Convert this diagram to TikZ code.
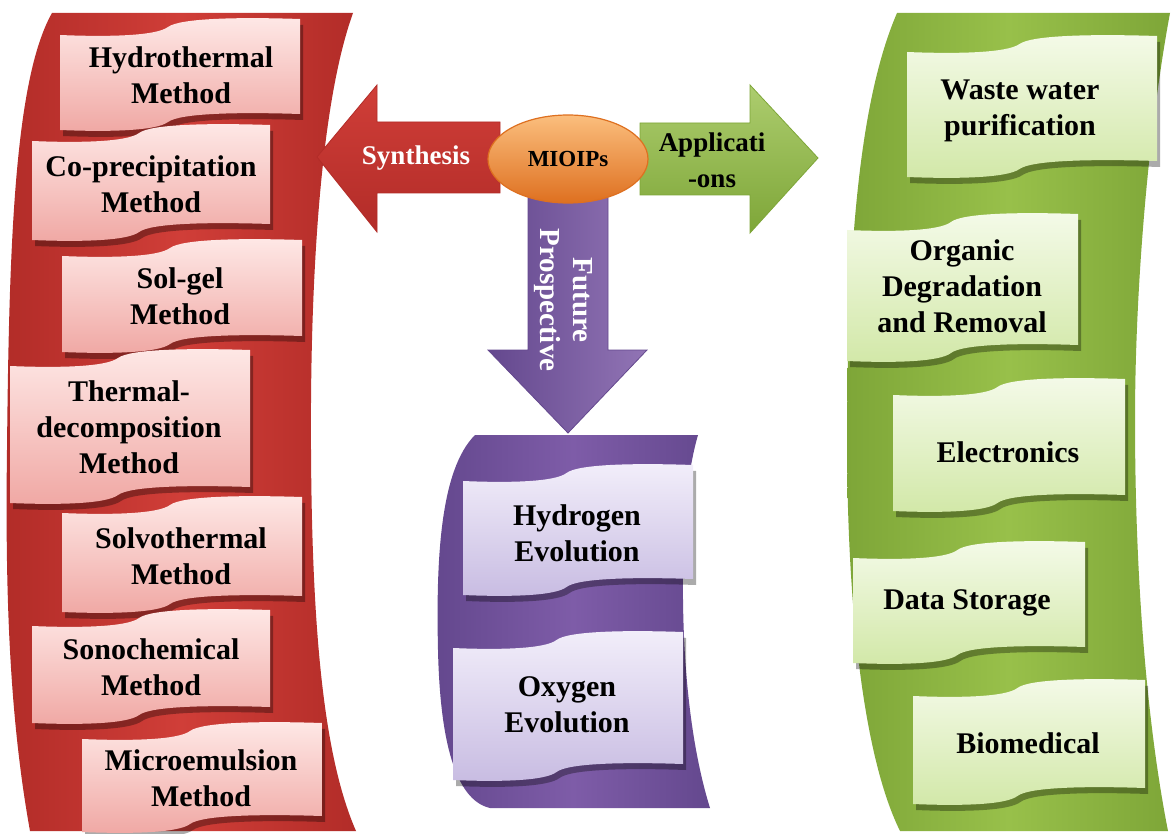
\documentclass[tikz,border=0pt]{standalone}
\usepackage{fontspec}
\setmainfont{Liberation Serif}
\usetikzlibrary{shapes.geometric}
\definecolor{redM}{RGB}{208,62,56}
\definecolor{redD}{RGB}{178,44,40}
\definecolor{redL1}{RGB}{254,232,230}
\definecolor{redL2}{RGB}{240,168,164}
\definecolor{grnM}{RGB}{152,192,74}
\definecolor{grnD}{RGB}{126,166,56}
\definecolor{grnL1}{RGB}{244,250,232}
\definecolor{grnL2}{RGB}{210,232,168}
\definecolor{purM}{RGB}{126,92,168}
\definecolor{purD}{RGB}{100,72,142}
\definecolor{purL1}{RGB}{242,238,250}
\definecolor{purL2}{RGB}{200,188,226}
\definecolor{orM}{RGB}{247,150,70}
\definecolor{orL}{RGB}{251,190,125}
\definecolor{orD}{RGB}{222,112,32}
\newcommand\wavepath[4]{(#1,{#2+8})
  .. controls ({#1+0.2*(#3-#1)},{#2+10}) and ({#1+0.4*(#3-#1)},{#2+9}) .. ({#1+0.45*(#3-#1)},#2)
  .. controls ({#1+0.5*(#3-#1)},{#2-9}) and ({#1+0.75*(#3-#1)},{#2-10}) .. (#3,{#2-8})
  -- (#3,{#4-8})
  .. controls ({#1+0.75*(#3-#1)},{#4-10}) and ({#1+0.5*(#3-#1)},{#4-9}) .. ({#1+0.45*(#3-#1)},#4)
  .. controls ({#1+0.4*(#3-#1)},{#4+9}) and ({#1+0.2*(#3-#1)},{#4+10}) .. (#1,{#4+8}) -- cycle}
\newcommand\wavebox[6]{%
  \fill[black,opacity=0.33,shift={(3,6)}] \wavepath{#1}{#2}{#3}{#4};
  \shade[top color=#5,bottom color=#6] \wavepath{#1}{#2}{#3}{#4};
}
\tikzset{
  lbl/.style={font=\bfseries\fontsize{15}{18}\selectfont, align=center, inner sep=0pt, text=black},
  arrlbl/.style={font=\bfseries\fontsize{13.5}{18}\selectfont, align=center, inner sep=0pt},
}
\begin{document}
\begin{tikzpicture}[x=0.5pt,y=-0.5pt]
\useasboundingbox (0,0) rectangle (1172,834);
\fill[white] (0,0) rectangle (1172,834);
% banners
\shade[left color=redD, right color=redD, middle color=redM]
  (52,13) -- (353,13) .. controls (318,110) and (310,300) .. (311,450)
  .. controls (312,640) and (325,760) .. (356,831) -- (30,831)
  .. controls (10,720) and (5,600) .. (7,450) .. controls (9,250) and (14,80) .. (52,13) -- cycle;
\shade[left color=grnD, right color=grnD, middle color=grnM]
  (897,13) -- (1170,13) .. controls (1150,120) and (1135,280) .. (1135,420)
  .. controls (1135,600) and (1150,740) .. (1168,831) -- (900,831)
  .. controls (865,760) and (848,620) .. (847,450) .. controls (847,280) and (855,110) .. (897,13) -- cycle;
\shade[left color=purD, right color=purD, middle color=purM]
  (475,435) -- (698,435) .. controls (685,480) and (682,540) .. (683,600)
  .. controls (684,690) and (695,760) .. (710,808) -- (490,808)
  .. controls (455,800) and (440,740) .. (438,650) .. controls (436,560) and (440,470) .. (475,435) -- cycle;
% red boxes
\wavebox{60}{27}{300}{122}{redL1}{redL2}
\wavebox{32}{133}{270}{232}{redL1}{redL2}
\wavebox{62}{248}{302}{344}{redL1}{redL2}
\wavebox{10}{358}{250}{495}{redL1}{redL2}
\wavebox{62}{505}{302}{604}{redL1}{redL2}
\wavebox{32}{618}{270}{715}{redL1}{redL2}
\wavebox{82}{731}{322}{824}{redL1}{redL2}
% green boxes
\wavebox{907}{44}{1157}{169}{grnL1}{grnL2}
\wavebox{847}{222}{1078}{353}{grnL1}{grnL2}
\wavebox{893}{387}{1125}{503}{grnL1}{grnL2}
\wavebox{853}{550}{1085}{655}{grnL1}{grnL2}
\wavebox{913}{688}{1145}{796}{grnL1}{grnL2}
% purple boxes
\wavebox{463}{473}{693}{587}{purL1}{purL2}
\wavebox{453}{640}{683}{772}{purL1}{purL2}
% texts in boxes
\node[lbl] (r1) at (181,75) {Hydrothermal\\Method};
\node[lbl] (r2) at (151,184) {Co-precipitation\\Method};
\node[lbl] (r3) at (180,296) {Sol-gel\\Method};
\node[lbl] (r4) at (129,427) {Thermal-\\decomposition\\Method};
\node[lbl] (r5) at (181,556) {Solvothermal\\Method};
\node[lbl] (r6) at (151,667) {Sonochemical\\Method};
\node[lbl] (r7) at (201,778) {Microemulsion\\Method};
\node[lbl] (g1) at (1020,111) {Waste water\\purification};
\node[lbl] (g2) at (962,286) {Organic\\Degradation\\and Removal};
\node[lbl] (g3) at (1008,452) {Electronics};
\node[lbl] (g4) at (967,603) {Data Storage};
\node[lbl] (g5) at (1028,743) {Biomedical};
\node[lbl] (p1) at (577,533) {Hydrogen\\Evolution};
\node[lbl] (p2) at (567,705) {Oxygen\\Evolution};
% block arrows
\shade[top color=redM, bottom color=redD, draw=redD, line width=0.4pt]
  (317,157) -- (377,85) -- (377,122) -- (500,122) -- (500,193) -- (377,193) -- (377,232) -- cycle;
\shade[top color=grnM!80!white, bottom color=grnD, draw=grnD, line width=0.4pt]
  (640,123) -- (750,123) -- (750,85) -- (818,158) -- (750,233) -- (750,195) -- (640,195) -- cycle;
\shade[left color=purD, right color=purM!85!white, draw=purD, line width=0.4pt]
  (528,195) -- (608,195) -- (608,350) -- (647,350) -- (568,433) -- (488,350) -- (528,350) -- cycle;
\node[ellipse, minimum width=80pt, minimum height=44pt, inner sep=0pt,
      top color=orL, bottom color=orD, draw=orD, line width=0.6pt,
      font=\bfseries\fontsize{11.5}{14}\selectfont] (mioips) at (568,159) {MIOIPs};
\node[arrlbl, text=white] (syn) at (416,158) {Synthesis};
\node[arrlbl, text=black] (app) at (712,160) {Applicati\\-ons};
\node[arrlbl, text=white, rotate=-90, font=\bfseries\fontsize{14.5}{16.5}\selectfont] (fut) at (563,300) {Future\\Prospective};
\end{tikzpicture}
\end{document}
